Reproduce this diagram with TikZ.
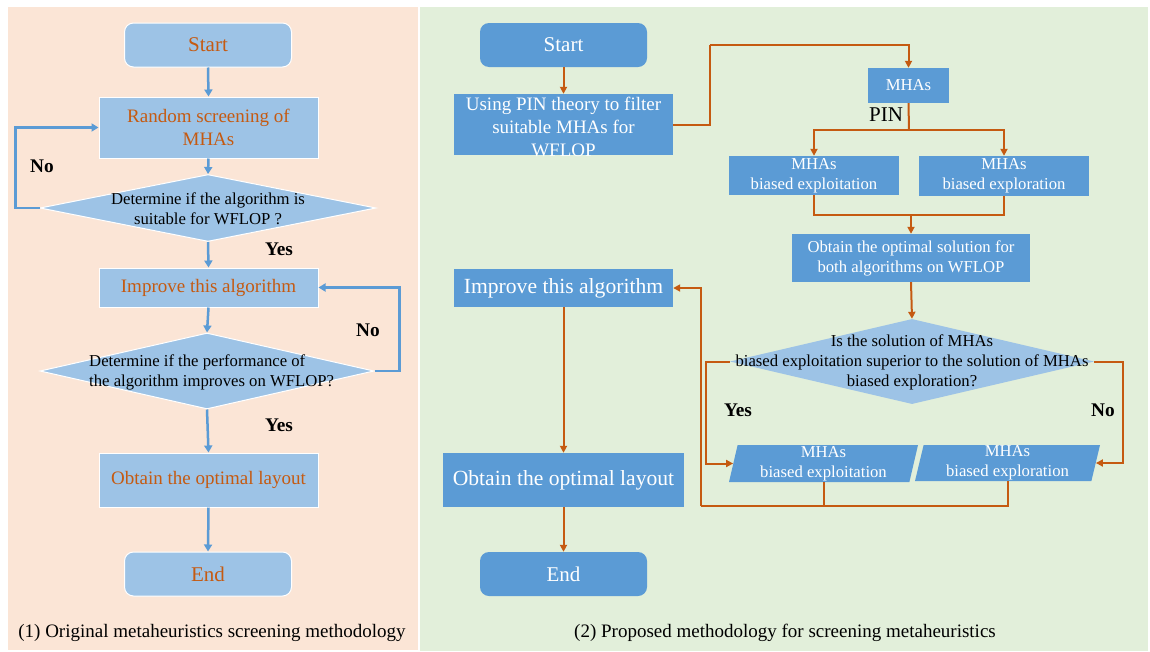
\documentclass[tikz,border=0pt]{standalone}
\usepackage{fontspec}
\setmainfont{Liberation Serif}
\usetikzlibrary{shapes.geometric,arrows.meta}
\definecolor{peach}{HTML}{FBE5D6}
\definecolor{lgreen}{HTML}{E2EFDA}
\definecolor{lblue}{HTML}{9DC3E6}
\definecolor{mblue}{HTML}{5B9BD5}
\definecolor{orng}{HTML}{C55A11}
\tikzset{
  lbox/.style={rectangle,fill=lblue,draw=white,line width=1pt,inner sep=0pt,align=center,text=orng,font=\fontsize{19}{23}\selectfont},
  lround/.style={lbox,rounded corners=9pt,font=\fontsize{21}{24}\selectfont},
  ldia/.style={diamond,fill=lblue,draw=white,line width=1pt,inner sep=0pt,aspect=5},
  rbox/.style={rectangle,fill=mblue,inner sep=0pt,align=center,text=white,font=\fontsize{19}{23}\selectfont},
  rround/.style={rbox,rounded corners=9pt,font=\fontsize{21}{24}\selectfont},
  rsmall/.style={rbox,font=\fontsize{16.7}{20}\selectfont},
  rdia/.style={diamond,fill=lblue,inner sep=0pt,aspect=4},
  para/.style={trapezium,trapezium left angle=76,trapezium right angle=104,trapezium stretches body,fill=mblue,inner sep=0pt,align=center,text=white,font=\fontsize{16.7}{20}\selectfont},
  dtext/.style={align=center,font=\fontsize{16.7}{20}\selectfont,inner sep=0pt},
  lab/.style={font=\bfseries\fontsize{19.3}{22}\selectfont,inner sep=0pt},
  captext/.style={font=\fontsize{19}{22}\selectfont,inner sep=0pt},
  barrow/.style={draw=mblue,line width=2.5pt,-{Triangle[length=7pt,width=8pt]}},
  oarrow/.style={draw=orng,line width=2pt,-{Triangle[length=7pt,width=7pt]}},
  oline/.style={draw=orng,line width=2pt},
}
\begin{document}
\begin{tikzpicture}[x=1pt,y=-1pt]
\useasboundingbox (0,0) rectangle (1150,651);
\fill[white] (0,0) rectangle (1150,651);
\fill[peach] (8,7) rectangle (418,650);
\fill[lgreen] (420,7) rectangle (1148,651);

% ---------- left ----------
\node[lround,minimum width=167pt,minimum height=44pt] (ls) at (208,45) {Start};
\node[lbox,minimum width=219pt,minimum height=61pt] (lr) at (208.5,127.5) {Random screening of\\MHAs};
\node[ldia,minimum width=336pt,minimum height=67pt] (ld1) at (208,208) {};
\node[dtext] (ld1t) at (208,209) {Determine if the algorithm is\\suitable for WFLOP ?};
\node[lbox,minimum width=219pt,minimum height=39pt] (li) at (208.5,287.5) {Improve this algorithm};
\node[ldia,minimum width=334pt,minimum height=76pt] (ld2) at (207,371) {};
\node[dtext,align=left,anchor=west] (ld2t) at (89,372) {Determine if the performance of\\the algorithm improves on WFLOP?};
\node[lbox,minimum width=219pt,minimum height=54pt] (lo) at (208.5,480) {Obtain the optimal layout};
\node[lround,minimum width=167pt,minimum height=44pt] (le) at (208,574) {End};

\draw[barrow] (ls.south) -- (lr.north);
\draw[barrow] (lr.south) -- (ld1.north);
\draw[barrow] (ld1.south) -- (li.north);
\draw[barrow] (li.south) -- (ld2.north);
\draw[barrow] (ld2.south) -- (lo.north);
\draw[barrow] (lo.south) -- (le.north);
\draw[barrow] (ld1.west) -- ++(-24,0) |- (lr.west);
\draw[barrow] (ld2.east) -- ++(25,0) |- (li.east);

\node[lab] (lno1) at (42,166) {No};
\node[lab] (lyes1) at (279,249) {Yes};
\node[lab] (lno2) at (368,330) {No};
\node[lab] (lyes2) at (279,425) {Yes};
\node[captext] (cap1) at (212,633) {(1) Original metaheuristics screening methodology};

% ---------- right ----------
\node[rround,minimum width=167pt,minimum height=44pt] (rs) at (563.5,45) {Start};
\node[rbox,minimum width=219pt,minimum height=61pt] (rp) at (563.5,124.5) {};
\node[rbox,fill=none] (rpt) at (563.5,126.5) {Using PIN theory to filter\\suitable MHAs for\\WFLOP};
\node[rsmall,minimum width=81pt,minimum height=35pt] (rm) at (908.5,85.5) {MHAs};
\node[rsmall,minimum width=170pt,minimum height=39pt] (rb1) at (814,175.5) {MHAs\\biased exploitation};
\node[rsmall,minimum width=170pt,minimum height=40pt] (rb2) at (1004,176) {MHAs\\biased exploration};
\node[rsmall,minimum width=238pt,minimum height=48pt] (ro) at (911,258) {Obtain the optimal solution for\\both algorithms on WFLOP};
\node[rdia,minimum width=364pt,minimum height=85pt] (rd) at (912,361.5) {};
\node[dtext] (rdt) at (912,362.5) {Is the solution of MHAs\\biased exploitation superior to the solution of MHAs\\biased exploration?};
\node[para,minimum width=189pt,minimum height=37pt] (rq1) at (823.5,463.5) {MHAs\\biased exploitation};
\node[para,minimum width=185pt,minimum height=36pt] (rq2) at (1007.5,463) {MHAs\\biased exploration};
\node[rbox,font=\fontsize{21.6}{25}\selectfont,minimum width=219pt,minimum height=38pt] (ri) at (563.5,288) {Improve this algorithm};
\node[rbox,font=\fontsize{21.6}{25}\selectfont,minimum width=241pt,minimum height=54pt] (rl) at (563.5,480) {Obtain the optimal layout};
\node[rround,minimum width=167pt,minimum height=44pt] (re) at (563.5,574) {End};

\coordinate (c1) at (710,45);
\coordinate (c2) at (909,130);
\coordinate (c3) at (911,215);
\coordinate (c4) at (701,506);

\draw[oarrow] (rs.south) -- (rp.north);
\draw[oline] (rp.east) -| (c1);
\draw[oarrow] (c1) -| (rm.north);
\draw[oline] (rm.south) -- (c2);
\draw[oarrow] (c2) -| (rb1.north);
\draw[oarrow] (c2) -| (rb2.north);
\draw[oline] (rb1.south) |- (c3);
\draw[oline] (rb2.south) |- (c3);
\draw[oarrow] (c3) -- (ro.north);
\draw[oarrow] (ro.south) -- (rd.north);
\draw[oarrow] (rd.west) -- ++(-24,0) |- (rq1.west);
\draw[oarrow] (rd.east) -- ++(29,0) |- (rq2.east);
\draw[oline] (rq1.south) -- (rq1.south |- c4);
\draw[oline] (rq2.south) |- (c4);
\draw[oarrow] (c4) |- (ri.east);
\draw[oarrow] (ri.south) -- (rl.north);
\draw[oarrow] (rl.south) -- (re.north);

\node[font=\fontsize{21}{24}\selectfont,inner sep=0pt] (pin) at (886,115) {PIN};
\node[lab] (ryes) at (738,410) {Yes};
\node[lab] (rno) at (1103,410) {No};
\node[captext] (cap2) at (785,633) {(2) Proposed methodology for screening metaheuristics};
\end{tikzpicture}
\end{document}
